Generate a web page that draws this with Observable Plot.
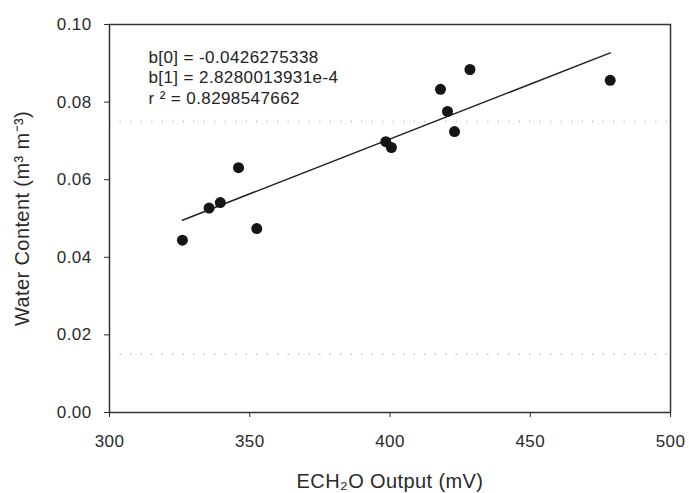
<!DOCTYPE html>
<html>
<head>
<meta charset="utf-8">
<script src="https://cdn.jsdelivr.net/npm/d3@7"></script>
<script src="https://cdn.jsdelivr.net/npm/@observablehq/plot@0.6"></script>
<style>
  html, body { margin: 0; padding: 0; background: #fff; }
  #chart svg { display: block; }
</style>
</head>
<body>
<div id="chart"></div>
<script>
// ECH2O output (mV) and measured water content (m3/m3)
const outputMv = [326, 335.5, 339.5, 346, 352.5, 398.5, 400.5, 418, 420.5, 423, 428.5, 478.5];
const waterContent = [0.0444, 0.0527, 0.0541, 0.0631, 0.0474, 0.0698, 0.0683, 0.0833, 0.0776, 0.0724, 0.0884, 0.0856];
// Regression coefficients shown on the chart
const b0 = -0.0426275338;
const b1 = 2.8280013931e-4;
const r2 = 0.8298547662;
const annotationLines = ["b[0] = -0.0426275338", "b[1] = 2.8280013931e-4", "r ² = 0.8298547662"];
// Reference (dotted) levels
const refLevels = [0.075, 0.015];
const xTicks = [300, 350, 400, 450, 500];
const yTicks = [0, 0.02, 0.04, 0.06, 0.08, 0.10];

const points = outputMv.map((x, i) => ({x, y: waterContent[i]}));
const xExtent = d3.extent(outputMv);
const fit = xExtent.map(x => ({x, y: b0 + b1 * x}));

const ink = "#2a2a2a";

const chart = Plot.plot({
  width: 689,
  height: 493,
  marginLeft: 109,
  marginRight: 19,
  marginTop: 24,
  marginBottom: 81,
  style: {fontFamily: "'Liberation Sans', Arial, sans-serif", fontSize: "17px", color: ink, background: "#fff", letterSpacing: "0.4px"},
  x: {domain: [300, 500]},
  y: {domain: [0, 0.1]},
  marks: [
    Plot.ruleY(refLevels, {stroke: "#c8c8c8", strokeWidth: 1.5, strokeDasharray: "1.5,9"}),
    Plot.frame({stroke: "#333", strokeWidth: 1.5}),
    Plot.axisX({ticks: xTicks, tickSize: 5, tickPadding: 17, tickFormat: d3.format("d"),
      label: "ECH₂O Output (mV)", labelAnchor: "center", labelArrow: "none", labelOffset: 75,
      fontSize: 17}),
    Plot.axisY({ticks: yTicks, tickSize: 5, tickPadding: 13, tickFormat: d3.format(".2f"),
      label: "Water Content (m³ m⁻³)", labelAnchor: "center", labelArrow: "none", labelOffset: 95,
      fontSize: 17}),
    Plot.line(fit, {x: "x", y: "y", stroke: "#222", strokeWidth: 1.5}),
    Plot.dot(points, {x: "x", y: "y", r: 5.5, fill: "#151515", stroke: "none"}),
    Plot.text([annotationLines.join("\n")], {frameAnchor: "top-left", dx: 39, dy: 24,
      lineHeight: 1.2, fontSize: 17, fill: "#222", textAnchor: "start"})
  ]
});
// axis titles are a touch larger than tick labels
chart.querySelectorAll("g[aria-label='x-axis label'] text, g[aria-label='y-axis label'] text")
  .forEach(t => t.setAttribute("font-size", 20));
document.getElementById("chart").appendChild(chart);
</script>
</body>
</html>
